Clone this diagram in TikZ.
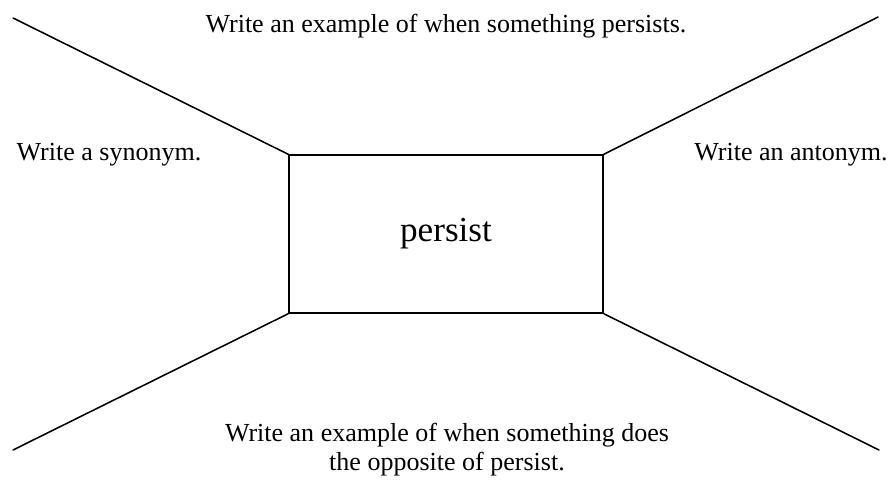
\documentclass[tikz,border=0pt]{standalone}
\usepackage{fontspec}
\setmainfont{Liberation Serif}
\usetikzlibrary{positioning}

\begin{document}
\begin{tikzpicture}[x=0.025cm,y=-0.025cm,
  prompt/.style={font=\fontsize{18.5}{20}\selectfont,inner sep=0pt,align=center,anchor=base},
  spoke/.style={line width=1.1pt,line cap=round}]
 \useasboundingbox (0,0) rectangle (891,479);
 % centre word
 \node[draw,line width=0.9pt,minimum width=7.85cm,minimum height=3.95cm,inner sep=0pt,
   font=\fontsize{25}{30}\selectfont] (word) at (446,234) {persist};
 % outer ends of the spokes
 \coordinate (tl) at (13,18);
 \coordinate (tr) at (878,17);
 \coordinate (bl) at (13,450);
 \coordinate (br) at (879,450);
 \draw[spoke] (word.north west) -- (tl);
 \draw[spoke] (word.north east) -- (tr);
 \draw[spoke] (word.south west) -- (bl);
 \draw[spoke] (word.south east) -- (br);
 % prompts
 \node[prompt] (example) at (446,33) {Write an example of when something persists.};
 \node[prompt] (synonym) at (109,160) {Write a synonym.};
 \node[prompt] (antonym) at (791,160) {Write an antonym.};
 \node[prompt] (opposite) at (447,470)
   {Write an example of when something does\\the opposite of persist.};
\end{tikzpicture}
\end{document}
